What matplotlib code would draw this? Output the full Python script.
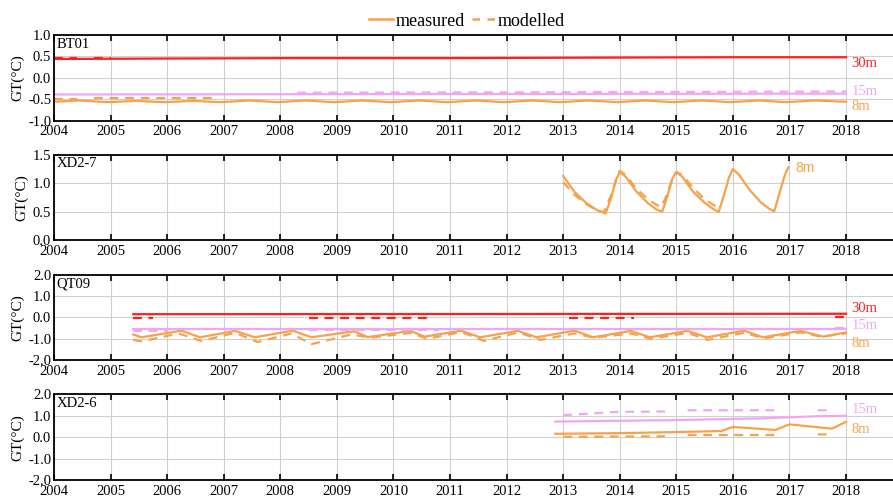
import numpy as np
import matplotlib
matplotlib.use("Agg")
import matplotlib.pyplot as plt
from matplotlib.lines import Line2D

plt.rcParams['font.family'] = ['Liberation Serif', 'DejaVu Serif']
plt.rcParams['axes.unicode_minus'] = False

nan = np.nan

# -----------------------------
# Colours
# -----------------------------
c8 = '#f7a24a'
c15 = '#f0a6f5'
c30 = '#ff1f1f'

# -----------------------------
# BT01
# -----------------------------
bt_30_meas_x = [2004, 2006, 2008.2, 2011, 2013.4, 2016, 2018]
bt_30_meas_y = [0.44, 0.45, 0.46, 0.46, 0.47, 0.48, 0.48]
bt_30_mod_x = [2004, 2004.4, 2004.41, 2004.7, 2005.0]
bt_30_mod_y = [0.47, 0.47, nan, 0.47, 0.47]
bt_15_meas_x = [2004, 2018]
bt_15_meas_y = [-0.39, -0.37]
bt_15_mod_x = [2008.3, 2012, 2018]
bt_15_mod_y = [-0.35, -0.34, -0.32]
bt_8_meas_x = [2004, 2004.45, 2004.95, 2005.45, 2005.95, 2006.45, 2006.95, 2007.45, 2007.95,
               2008.45, 2008.95, 2009.45, 2009.95, 2010.45, 2010.95, 2011.45, 2011.95,
               2012.45, 2012.95, 2013.45, 2013.95, 2014.45, 2014.95, 2015.45, 2015.95,
               2016.45, 2016.95, 2017.45, 2018]
bt_8_meas_y = [-0.56, -0.53, -0.57, -0.54, -0.57, -0.54, -0.57, -0.53, -0.57,
               -0.53, -0.57, -0.53, -0.57, -0.53, -0.57, -0.53, -0.57,
               -0.53, -0.57, -0.53, -0.57, -0.53, -0.57, -0.53, -0.57,
               -0.53, -0.57, -0.53, -0.56]
bt_8_mod_x = [2004, 2004.4, 2004.41, 2004.7, 2006.9]
bt_8_mod_y = [-0.5, -0.5, nan, -0.47, -0.47]

# -----------------------------
# XD2-7
# -----------------------------
xd7_8_meas_x = [2013.0, 2013.2, 2013.4, 2013.6, 2013.75, 2013.85, 2013.93, 2014.0,
                2014.1, 2014.3, 2014.5, 2014.65, 2014.75, 2014.85, 2014.93, 2015.0,
                2015.1, 2015.3, 2015.5, 2015.65, 2015.75, 2015.85, 2015.93, 2016.0,
                2016.1, 2016.3, 2016.5, 2016.65, 2016.73, 2016.83, 2016.92, 2016.98]
xd7_8_meas_y = [1.13, 0.85, 0.66, 0.53, 0.47, 0.75, 1.05, 1.2,
                1.12, 0.85, 0.65, 0.54, 0.5, 0.8, 1.08, 1.2,
                1.12, 0.85, 0.66, 0.55, 0.5, 0.82, 1.1, 1.25,
                1.16, 0.88, 0.66, 0.55, 0.51, 0.85, 1.15, 1.28]
xd7_8_mod_x = [2013.0, 2013.2, 2013.4, 2013.6, 2013.72, 2013.85, 2013.93, 2014.0,
               2014.1, 2014.3, 2014.5, 2014.72, 2014.8, 2014.9, 2015.0,
               2015.1, 2015.3, 2015.5, 2015.72]
xd7_8_mod_y = [1.02, 0.8, 0.64, 0.52, 0.5, 0.8, 1.05, 1.22,
               1.15, 0.9, 0.72, 0.58, 0.72, 1.0, 1.2,
               1.15, 0.92, 0.72, 0.58]

# -----------------------------
# QT09
# -----------------------------
qt_30_meas_x = [2005.4, 2018]
qt_30_meas_y = [0.15, 0.17]
qt_30_mod_x = [2005.4, 2005.75, nan, 2008.5, 2010.7, nan, 2013.1, 2014.25, nan, 2017.8, 2018]
qt_30_mod_y = [-0.05, -0.05, nan, -0.02, -0.02, nan, -0.02, -0.02, nan, 0.0, 0.0]
qt_15_meas_x = [2005.4, 2018]
qt_15_meas_y = [-0.55, -0.55]
qt_15_mod_x = [2005.4, 2006.0, nan, 2008.5, 2010.8, nan, 2017.8, 2018]
qt_15_mod_y = [-0.62, -0.62, nan, -0.6, -0.6, nan, -0.5, -0.5]
qt_8_meas_x = [2005.4, 2005.55, 2006.25, 2006.58, 2007.2, 2007.55, 2008.22, 2008.55,
               2009.3, 2009.55, 2010.3, 2010.55, 2011.2, 2011.53, 2012.2, 2012.53,
               2013.2, 2013.53, 2014.2, 2014.53, 2015.2, 2015.54, 2016.2, 2016.53,
               2017.2, 2017.6, 2018]
qt_8_meas_y = [-0.8, -0.93, -0.62, -0.93, -0.63, -0.93, -0.62, -0.93,
               -0.65, -0.92, -0.63, -0.9, -0.62, -0.93, -0.63, -0.93,
               -0.62, -0.93, -0.63, -0.93, -0.63, -0.93, -0.62, -0.93,
               -0.63, -0.9, -0.7]
qt_8_mod_x = [2005.4, 2005.55, 2006.2, 2006.6, 2007.2, 2007.6, 2008.2, 2008.55,
              2009.25, 2009.6, 2010.3, 2010.6, 2011.2, 2011.6, 2012.2, 2012.6,
              2013.2, 2013.55, 2014.2, 2014.55, 2015.2, 2015.55, 2016.2, 2016.55,
              2017.2, 2017.55, 2018]
qt_8_mod_y = [-1.05, -1.12, -0.75, -1.1, -0.72, -1.15, -0.75, -1.25,
              -0.8, -0.95, -0.72, -1.0, -0.68, -1.1, -0.7, -1.05,
              -0.75, -0.95, -0.75, -1.0, -0.72, -1.05, -0.72, -0.98,
              -0.7, -0.9, -0.75]

# -----------------------------
# XD2-6
# -----------------------------
xd6_15_meas_x = [2012.86, 2015, 2016.5, 2017.5, 2018]
xd6_15_meas_y = [0.73, 0.8, 0.88, 0.98, 1.0]
xd6_15_mod_x = [2013.0, 2014.0, 2014.8, nan, 2015.2, 2016.75, nan, 2017.5, 2017.75]
xd6_15_mod_y = [1.03, 1.19, 1.2, nan, 1.26, 1.26, nan, 1.26, 1.26]
xd6_8_meas_x = [2012.86, 2014.0, 2015.0, 2015.8, 2016.0, 2016.75, 2017.0, 2017.75, 2018.0]
xd6_8_meas_y = [0.16, 0.19, 0.24, 0.29, 0.48, 0.34, 0.6, 0.4, 0.72]
xd6_8_mod_x = [2013.0, 2014.8, nan, 2015.2, 2016.75, nan, 2017.5, 2017.75]
xd6_8_mod_y = [0.02, 0.04, nan, 0.1, 0.1, nan, 0.13, 0.13]

years = list(range(2004, 2019))

panels = [
    dict(name='BT01', ylim=(-1.0, 1.0), yticks=[-1.0, -0.5, 0.0, 0.5, 1.0],
         lines=[(bt_8_meas_x, bt_8_meas_y, c8, '-'), (bt_8_mod_x, bt_8_mod_y, c8, '--'),
                (bt_15_meas_x, bt_15_meas_y, c15, '-'), (bt_15_mod_x, bt_15_mod_y, c15, '--'),
                (bt_30_meas_x, bt_30_meas_y, c30, '-'), (bt_30_mod_x, bt_30_mod_y, c30, '--')],
         labels=[('30m', 0.33, c30), ('15m', -0.32, c15), ('8m', -0.68, c8)]),
    dict(name='XD2-7', ylim=(0.0, 1.5), yticks=[0.0, 0.5, 1.0, 1.5],
         lines=[(xd7_8_meas_x, xd7_8_meas_y, c8, '-'), (xd7_8_mod_x, xd7_8_mod_y, c8, '--')],
         labels=[]),
    dict(name='QT09', ylim=(-2.0, 2.0), yticks=[-2.0, -1.0, 0.0, 1.0, 2.0],
         lines=[(qt_8_meas_x, qt_8_meas_y, c8, '-'), (qt_8_mod_x, qt_8_mod_y, c8, '--'),
                (qt_15_meas_x, qt_15_meas_y, c15, '-'), (qt_15_mod_x, qt_15_mod_y, c15, '--'),
                (qt_30_meas_x, qt_30_meas_y, c30, '-'), (qt_30_mod_x, qt_30_mod_y, c30, '--')],
         labels=[('30m', 0.4, c30), ('15m', -0.4, c15), ('8m', -1.2, c8)]),
    dict(name='XD2-6', ylim=(-2.0, 2.0), yticks=[-2.0, -1.0, 0.0, 1.0, 2.0],
         lines=[(xd6_8_meas_x, xd6_8_meas_y, c8, '-'), (xd6_8_mod_x, xd6_8_mod_y, c8, '--'),
                (xd6_15_meas_x, xd6_15_meas_y, c15, '-'), (xd6_15_mod_x, xd6_15_mod_y, c15, '--')],
         labels=[('15m', 1.3, c15), ('8m', 0.37, c8)]),
]

fig, axes = plt.subplots(4, 1, figsize=(8.93, 5.0), dpi=100)
fig.subplots_adjust(left=0.0605, right=1.0, top=0.93, bottom=0.04, hspace=0.4)

for ax, p in zip(axes, panels):
    for x, y, col, ls in p['lines']:
        ax.plot(x, y, color=col, ls=ls, lw=1.6, dashes=(4, 3) if ls == '--' else (None, None))
    ax.set_xlim(2004, 2018.83)
    ax.set_ylim(*p['ylim'])
    ax.set_xticks(years)
    ax.set_yticks(p['yticks'])
    ax.set_yticklabels([f'{v:.1f}' for v in p['yticks']])
    ax.grid(True, color='#d0d0d0', lw=0.8)
    ax.set_axisbelow(True)
    ax.tick_params(axis='x', direction='in', top=True, length=4, width=1.2,
                   labelsize=10.5, pad=3.5)
    ax.tick_params(axis='y', length=0, labelsize=10.5, pad=2)
    for s in ['left', 'top', 'bottom']:
        ax.spines[s].set_linewidth(1.3)
    ax.spines['right'].set_visible(False)
    ax.set_ylabel('GT(°C)', fontsize=11, labelpad=3)
    ax.text(0.003, 0.97, p['name'], transform=ax.transAxes, ha='left', va='top', fontsize=10.5)
    for txt, yv, col in p['labels']:
        ax.text(2018.1, yv, txt, color=col, fontsize=10.5, va='center', ha='left')

axes[1].text(2017.1, 1.27, '8m', color=c8, fontsize=10, va='center', ha='left',
             family=['Liberation Sans', 'DejaVu Sans'])

handles = [Line2D([], [], color=c8, ls='-', lw=1.8),
           Line2D([], [], color=c8, ls='--', lw=1.8, dashes=(3, 3))]
fig.legend(handles, ['measured', 'modelled'], loc='center', bbox_to_anchor=(0.523, 0.958),
           ncol=2, frameon=False, fontsize=13, handlelength=1.3, handletextpad=0.15,
           columnspacing=0.4)

fig.savefig('out.png', dpi=100)
